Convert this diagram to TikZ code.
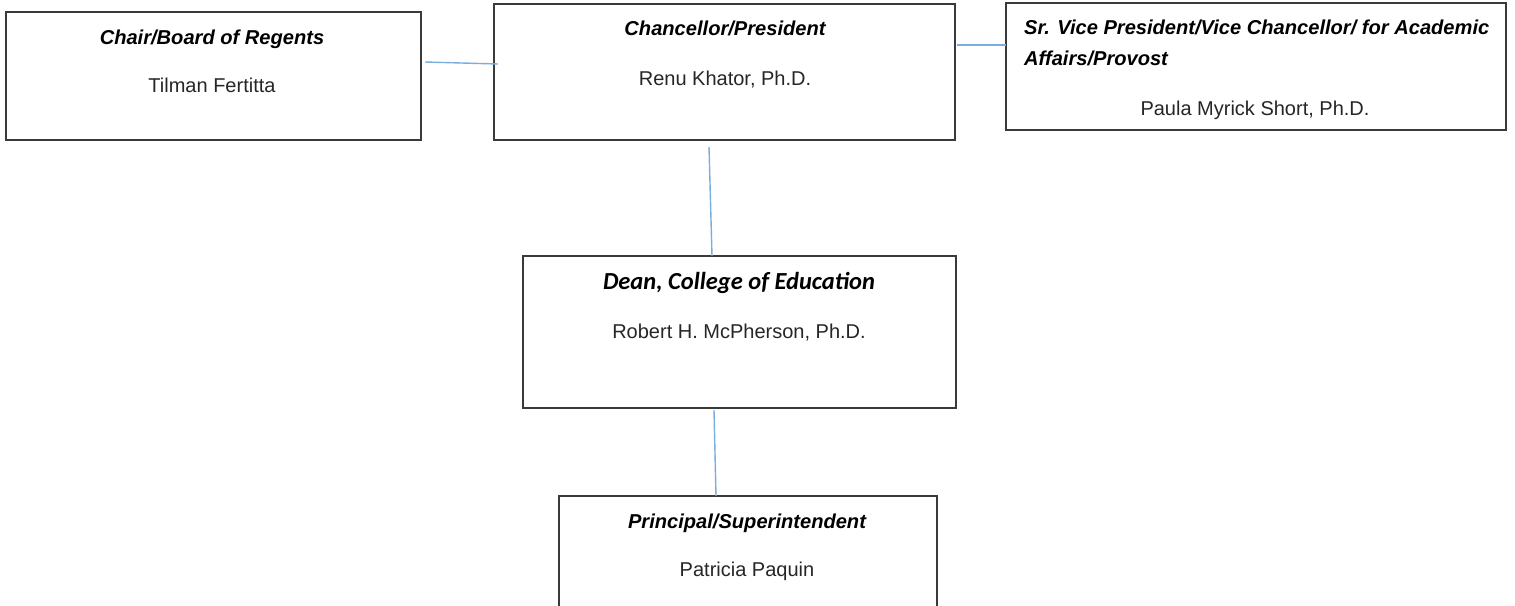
\documentclass[tikz,border=0pt]{standalone}
\usepackage{fontspec}
\setmainfont{Liberation Sans}
\newfontfamily\carlito{Carlito}
\definecolor{linkblue}{HTML}{7AAEDD}
\definecolor{boxgray}{HTML}{3A3A3A}
\definecolor{namegray}{HTML}{262626}
\begin{document}
\begin{tikzpicture}[x=1pt,y=-1pt,
  box/.style={draw=boxgray,line width=1.2pt,inner sep=0pt,outer sep=0pt,fill=white},
  ttl/.style={inner sep=0pt,anchor=base,font=\fontsize{20.1}{24}\selectfont\bfseries\itshape,text=black},
  cttl/.style={inner sep=0pt,anchor=base,font=\fontsize{24.5}{28}\selectfont\carlito\bfseries\itshape,text=black},
  nm/.style={inner sep=0pt,anchor=base,font=\fontsize{20}{24}\selectfont,text=namegray},
  link/.style={draw=linkblue,line width=1.4pt}]
\useasboundingbox (0,0) rectangle (1515,605);
\clip (0,0) rectangle (1515,605);
\fill[white] (0,0) rectangle (1515,605);
% boxes
\node[box,minimum width=415pt,minimum height=128pt] (chair) at (213.5,76) {};
\node[box,minimum width=461pt,minimum height=136pt] (chancellor) at (724.5,72) {};
\node[box,minimum width=500pt,minimum height=127pt] (srvp) at (1256,66.5) {};
\node[box,minimum width=433pt,minimum height=152pt] (dean) at (739.5,332) {};
\node[box,minimum width=378pt,minimum height=124pt] (principal) at (748,558) {};
% texts
\node[ttl] (chairT) at (212,44) {Chair/Board of Regents};
\node[nm] (chairN) at (212,92) {Tilman Fertitta};
\node[ttl] (chanT) at (725,35) {Chancellor/President};
\node[nm] (chanN) at (725,85) {Renu Khator, Ph.D.};
\node[ttl,anchor=base west] (srvpT1) at (1024,34) {Sr. Vice President/Vice Chancellor/ for Academic};
\node[ttl,anchor=base west] (srvpT2) at (1024,65) {Affairs/Provost};
\node[nm] (srvpN) at (1255,115) {Paula Myrick Short, Ph.D.};
\node[cttl] (deanT) at (739,289) {Dean, College of Education};
\node[nm] (deanN) at (739,338) {Robert H. McPherson, Ph.D.};
\node[ttl] (prinT) at (747,528) {Principal/Superintendent};
\node[nm] (prinN) at (747,576) {Patricia Paquin};
% connectors
\draw[link] ([shift={(4,-14)}]chair.east) -- ([shift={(4,-8)}]chancellor.west);
\draw[link] ([shift={(2,-27)}]chancellor.east) -- ([shift={(0,-21.5)}]srvp.west);
\draw[link] ([shift={(-15.5,7)}]chancellor.south) -- ([shift={(-27.5,0)}]dean.north);
\draw[link] ([shift={(-25.5,2)}]dean.south) -- ([shift={(-32,0)}]principal.north);
\end{tikzpicture}
\end{document}
